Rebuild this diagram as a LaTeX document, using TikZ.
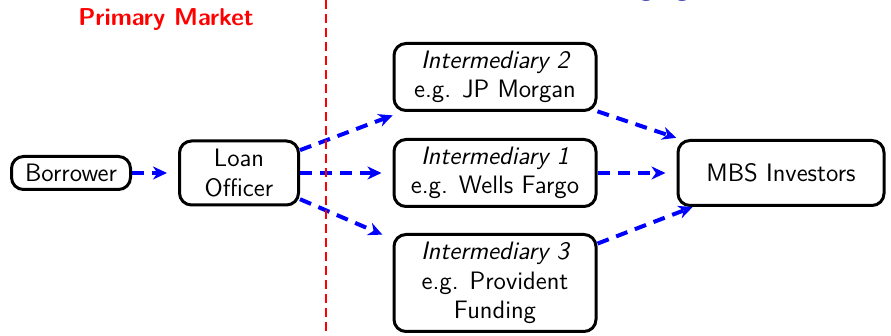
\documentclass[tikz,border=0pt]{standalone}
\usepackage{fontspec}
\usetikzlibrary{arrows.meta}
\definecolor{titleblue}{RGB}{51,51,179}
\begin{document}
\begin{tikzpicture}[x=0.5pt,y=-0.5pt,
  box/.style={draw=black, line width=1.5pt, rounded corners=6pt, align=center,
    inner sep=0pt, font=\sffamily\fontsize{12.6}{14.6}\selectfont},
  flow/.style={draw=blue, line width=2pt, dash pattern=on 6pt off 4pt,
    -{Stealth[length=7pt,width=6.5pt,inset=2.2pt]}},
  divider/.style={draw=red, line width=0.7pt, dash pattern=on 4.5pt off 2.5pt},
  heading/.style={text=red, anchor=base, inner sep=0pt,
    font=\sffamily\bfseries\fontsize{12.2}{14}\selectfont},
  titleglyph/.style={text=titleblue, anchor=base, inner sep=0pt,
    font=\sffamily\fontsize{17}{20}\selectfont}
]
\useasboundingbox (0,0) rectangle (891,336);

% descenders of the frame title above
\node[titleglyph] (tg1) at (646,-5) {g};
\node[titleglyph] (tg2) at (682,-5) {g};

% boxes
\node[box, minimum width=59.5pt, minimum height=16.5pt] (bor) at (71,173) {Borrower};
\node[box, minimum width=59.5pt, minimum height=32pt] (lo) at (239,173) {Loan\\Officer};
\node[box, minimum width=101pt, minimum height=33.5pt] (int2) at (495,77)
  {\itshape Intermediary 2\\e.g. JP Morgan};
\node[box, minimum width=101pt, minimum height=33.5pt] (int1) at (495,173)
  {\itshape Intermediary 1\\e.g. Wells Fargo};
\node[box, minimum width=101pt, minimum height=48.5pt] (int3) at (495,283)
  {\itshape Intermediary 3\\e.g. Provident\\Funding};
\node[box, minimum width=103pt, minimum height=32.5pt] (mbs) at (781,173) {MBS Investors};

% flows
\draw[flow, shorten >=5.5pt] (bor) -- (lo);
\draw[flow, shorten >=4.8pt] (lo) -- (int2);
\draw[flow, shorten >=5.5pt] (lo) -- (int1);
\draw[flow, shorten >=5.5pt] (lo) -- (int3);
\draw[flow, shorten >=1.8pt] (int2) -- (mbs);
\draw[flow, shorten >=5.5pt] (int1) -- (mbs);
\draw[flow] (int3) -- (mbs);

% market divider
\node[heading] (pm) at (166,26) {Primary Market};
\coordinate (divtop) at (326,0);
\coordinate (divbot) at (326,336);
\draw[divider] (divtop) -- (divbot);
\end{tikzpicture}
\end{document}
